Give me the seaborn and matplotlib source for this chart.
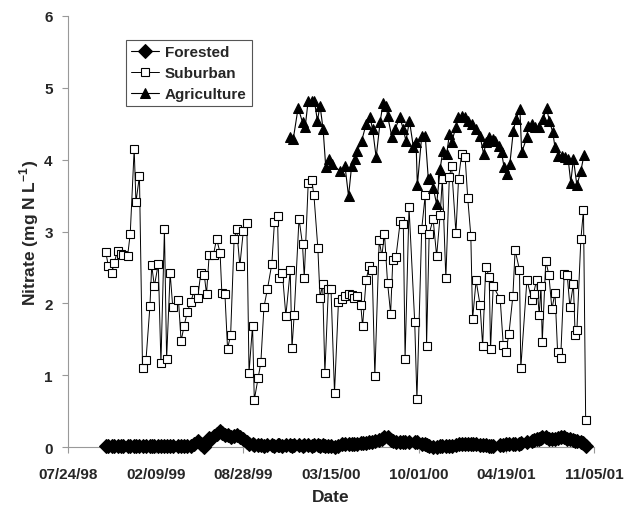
import pandas as pd
import matplotlib
matplotlib.use("Agg")
import matplotlib.pyplot as plt
import matplotlib.dates as mdates
import seaborn as sns

# ==============================
# data (days counted from 07/24/98, nitrate in mg N/L)
# ==============================
START = pd.Timestamp("1998-07-24")

sub_day = [86, 92, 100, 105, 113, 120, 126, 136, 142, 151, 155, 163, 170, 178, 187, 191,
           197, 206, 212, 220, 225, 233, 239, 252, 258, 265, 272, 280, 288, 296, 303, 311,
           316, 322, 332, 339, 347, 351, 358, 364, 371, 379, 385, 392, 400, 408, 413, 421,
           425, 434, 440, 447, 455, 465, 471, 478, 481, 489, 497, 507, 511, 516, 527, 535,
           539, 548, 556, 561, 570, 575, 581, 586, 594, 600, 608, 617, 624, 632, 640, 647,
           653, 660, 668, 672, 680, 687, 694, 700, 710, 716, 722, 729, 736, 741, 748, 758,
           765, 769, 778, 791, 796, 807, 815, 818, 824, 833, 841, 849, 854, 862, 870, 875,
           885, 891, 898, 906, 912, 919, 923, 931, 940, 946, 953, 961, 964, 970, 986, 993,
           999, 1006, 1015, 1020, 1030, 1033, 1047, 1058, 1062, 1069, 1075, 1079, 1082, 1090,
           1097, 1104, 1111, 1117, 1124, 1132, 1139, 1145, 1153, 1157, 1161, 1170, 1176, 1181]

suburban = [2.72, 2.52, 2.42, 2.56, 2.73, 2.69, 2.68, 2.66, 2.97, 4.15, 3.41, 3.77, 1.10, 1.22,
            1.97, 2.53, 2.24, 2.55, 1.17, 3.03, 1.23, 2.42, 1.95, 2.05, 1.48, 1.69, 1.88, 2.02,
            2.18, 2.08, 2.43, 2.39, 2.13, 2.67, 2.68, 2.90, 2.70, 2.14, 2.13, 1.37, 1.56, 2.90,
            3.03, 2.52, 3.01, 3.12, 1.04, 1.69, 0.66, 0.97, 1.18, 1.95, 2.20, 2.55, 3.13, 3.21,
            2.36, 2.43, 1.83, 2.46, 1.38, 1.84, 3.18, 2.82, 2.36, 3.67, 3.71, 3.51, 2.77, 2.08,
            2.27, 1.03, 2.20, 2.20, 0.76, 2.02, 2.06, 2.11, 2.13, 2.12, 2.08, 2.11, 1.98, 1.68,
            2.32, 2.52, 2.47, 0.99, 2.88, 2.66, 2.97, 2.29, 1.86, 2.60, 2.64, 3.14, 3.10, 1.23,
            3.34, 1.74, 0.67, 3.04, 3.51, 1.41, 2.97, 3.17, 2.66, 3.23, 3.73, 2.35, 3.76, 3.91,
            2.98, 3.73, 4.08, 4.03, 3.46, 2.94, 1.78, 2.32, 1.98, 1.41, 2.51, 2.37, 1.36, 2.24,
            2.06, 1.42, 1.33, 1.58, 2.11, 2.74, 2.47, 1.10, 2.33, 2.05, 2.13, 2.33, 1.84, 2.24,
            1.47, 2.59, 2.40, 1.92, 2.15, 1.32, 1.24, 2.41, 2.39, 1.95, 2.27, 1.56, 1.63, 2.89,
            3.30, 0.38]

# forested site sampled on the same days as the suburban one
forested = [0.02, 0.02, 0.02, 0.02, 0.02, 0.02, 0.02, 0.02, 0.02, 0.02, 0.02, 0.02, 0.02, 0.02,
            0.02, 0.02, 0.02, 0.02, 0.02, 0.02, 0.02, 0.02, 0.02, 0.02, 0.02, 0.02, 0.02, 0.02,
            0.04, 0.09, 0.05, 0.01, 0.06, 0.13, 0.16, 0.19, 0.22, 0.20, 0.17, 0.17, 0.15, 0.16,
            0.17, 0.14, 0.12, 0.07, 0.05, 0.04, 0.03, 0.03, 0.03, 0.02, 0.03, 0.03, 0.02, 0.03,
            0.03, 0.02, 0.03, 0.03, 0.02, 0.03, 0.03, 0.02, 0.03, 0.03, 0.02, 0.03, 0.03, 0.02,
            0.03, 0.02, 0.02, 0.02, 0.01, 0.02, 0.04, 0.05, 0.04, 0.04, 0.05, 0.05, 0.06, 0.06,
            0.06, 0.07, 0.08, 0.09, 0.10, 0.12, 0.14, 0.14, 0.10, 0.09, 0.08, 0.08, 0.08, 0.08,
            0.08, 0.07, 0.07, 0.05, 0.04, 0.03, 0.02, 0.01, 0.01, 0.02, 0.02, 0.02, 0.02, 0.02,
            0.03, 0.04, 0.05, 0.05, 0.05, 0.04, 0.04, 0.04, 0.03, 0.03, 0.03, 0.02, 0.02, 0.02,
            0.03, 0.03, 0.04, 0.04, 0.04, 0.05, 0.05, 0.06, 0.07, 0.09, 0.10, 0.11, 0.12, 0.13,
            0.14, 0.15, 0.12, 0.11, 0.12, 0.13, 0.14, 0.15, 0.12, 0.11, 0.10, 0.09, 0.09, 0.07,
            0.06, 0.02]

agr_day = [507, 514, 525, 535, 541, 548, 556, 562, 569, 575, 582, 588, 596, 602, 621, 632,
           640, 647, 655, 660, 670, 680, 689, 695, 703, 712, 719, 726, 729, 739, 746, 757,
           765, 771, 779, 788, 794, 797, 807, 815, 822, 826, 833, 841, 849, 855, 864, 870,
           875, 885, 890, 898, 906, 913, 921, 931, 940, 948, 954, 961, 969, 974, 984, 989,
           995, 1001, 1008, 1016, 1022, 1031, 1035, 1047, 1050, 1058, 1065, 1075, 1083, 1092,
           1098, 1106, 1111, 1119, 1126, 1134, 1141, 1147, 1153, 1161, 1170, 1177]

agriculture = [4.31, 4.29, 4.72, 4.52, 4.45, 4.82, 4.82, 4.82, 4.54, 4.75, 4.42, 3.90, 4.01,
               3.94, 3.84, 3.91, 3.49, 3.91, 4.01, 4.12, 4.26, 4.49, 4.59, 4.42, 4.03, 4.52,
               4.79, 4.75, 4.61, 4.31, 4.42, 4.59, 4.42, 4.26, 4.54, 4.17, 4.25, 3.64, 4.33,
               4.33, 3.73, 3.75, 3.61, 3.38, 3.87, 4.12, 4.08, 4.35, 4.24, 4.45, 4.59, 4.61,
               4.59, 4.54, 4.49, 4.42, 4.33, 4.08, 4.24, 4.31, 4.28, 4.26, 4.19, 4.10, 3.89,
               3.80, 3.94, 4.40, 4.56, 4.70, 4.10, 4.31, 4.47, 4.49, 4.45, 4.45, 4.56, 4.71,
               4.54, 4.38, 4.17, 4.05, 4.05, 4.03, 4.01, 3.68, 4.01, 3.64, 3.84, 4.06]

date_ticks = pd.date_range(START, periods=7, freq="200D")

df_sub = pd.DataFrame({"Date": START + pd.to_timedelta(sub_day, unit="D"),
                       "Suburban": suburban, "Forested": forested})
df_agr = pd.DataFrame({"Date": START + pd.to_timedelta(agr_day, unit="D"),
                       "Agriculture": agriculture})

# ==============================
# style
# ==============================
sns.set_style("white")
plt.rcParams["font.family"] = ["Liberation Sans", "DejaVu Sans"]
plt.rcParams["font.weight"] = "bold"
plt.rcParams["mathtext.fontset"] = "custom"
plt.rcParams["mathtext.rm"] = "Liberation Sans:bold"
plt.rcParams["mathtext.bf"] = "Liberation Sans:bold"

fig = plt.figure(figsize=(6.25, 5.06), dpi=100)
ax = fig.add_axes([0.1088, 0.114, 0.8416, 0.853])

sns.lineplot(data=df_sub, x="Date", y="Forested", ax=ax, estimator=None, color="black",
             lw=0.8, marker="D", ms=7.5, mfc="black", mec="black", label="Forested",
             clip_on=False, zorder=3)
sns.lineplot(data=df_sub, x="Date", y="Suburban", ax=ax, estimator=None, color="black",
             lw=0.7, marker="s", ms=5.4, mfc="white", mec="black", mew=0.8, label="Suburban",
             zorder=2)
sns.lineplot(data=df_agr, x="Date", y="Agriculture", ax=ax, estimator=None, color="black",
             lw=0.8, marker="^", ms=7.5, mfc="black", mec="black", label="Agriculture",
             zorder=2)

ax.set_xlim(date_ticks[0], date_ticks[-1])
ax.set_ylim(0, 6)
ax.set_xticks(date_ticks)
ax.xaxis.set_major_formatter(mdates.DateFormatter("%m/%d/%y"))
ax.set_yticks(range(0, 7))

for side in ["top", "right"]:
    ax.spines[side].set_visible(False)
for side in ["left", "bottom"]:
    ax.spines[side].set_color("#999999")
    ax.spines[side].set_linewidth(0.8)

ax.tick_params(axis="both", bottom=True, left=True, length=4, width=0.8, color="#999999",
               labelsize=11)
ax.tick_params(axis="x", pad=10)
ax.tick_params(axis="y", pad=7)
ax.set_xlabel("Date", fontsize=12.5, fontweight="bold", labelpad=6)
ax.set_ylabel(r"Nitrate (mg N L$^{-1}$)", fontsize=12.5, fontweight="bold", labelpad=2)

leg = ax.legend(loc="upper left", bbox_to_anchor=(0.11, 0.944), borderaxespad=0,
                fancybox=False, framealpha=1, edgecolor="#555555", fontsize=11,
                handlelength=1.8, labelspacing=0.45, borderpad=0.35, handletextpad=0.4)
leg.get_frame().set_linewidth(0.8)

fig.savefig("out.png", dpi=100)
plt.close(fig)
